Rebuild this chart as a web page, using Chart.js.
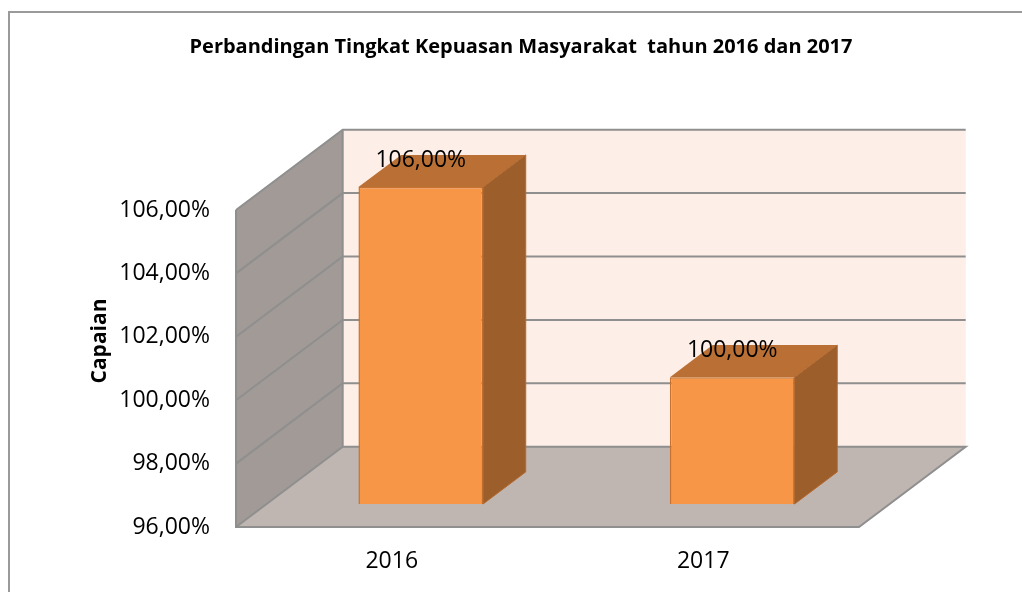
<!DOCTYPE html>
<html>
<head>
<meta charset="utf-8">
<script src="https://cdn.jsdelivr.net/npm/chart.js@4.4.1/dist/chart.umd.min.js"></script>
<style>
  html, body { margin: 0; padding: 0; background: #fff; }
  #chart { display: block; }
</style>
</head>
<body>
<canvas id="chart" width="1022" height="592"></canvas>
<script>
// data
var categories = ['2016', '2017'];
var capaian = [106, 100];          // percent
var yMin = 96, yMax = 106, yStep = 2;
var yTitle = 'Capaian';

// 3D look (projection of the depth axis)
var depthX = 106.7, depthY = -80.3;   // full wall depth
var barFront = 0.286;                 // where the bar front sits in the depth
var barDepth = 0.4;                   // bar thickness in the depth
var shiftX = 29, shiftY = depthY * barFront;

function pct(v) {
    return v.toFixed(2).replace('.', ',') + '%';
}

var fontName = "'Open Sans', 'Noto Sans', sans-serif";

var box3d = {
    id: 'box3d',
    beforeDraw: function (chart) {
        var c = chart.ctx;
        c.save();
        c.fillStyle = '#fff';
        c.fillRect(0, 0, chart.width, chart.height);
        // frame of the chart object
        c.strokeStyle = '#9a9a9a';
        c.lineWidth = 2;
        c.beginPath();
        c.moveTo(9, 592);
        c.lineTo(9, 12);
        c.lineTo(1022, 12);
        c.stroke();
        // value axis title
        c.translate(100, 341);
        c.rotate(-Math.PI / 2);
        c.fillStyle = '#000';
        c.font = 'bold 21px ' + fontName;
        c.textAlign = 'center';
        c.textBaseline = 'middle';
        c.fillText(yTitle, 0, 0);
        c.restore();
    },
    beforeDatasetsDraw: function (chart) {
        var c = chart.ctx, a = chart.chartArea, y = chart.scales.y;
        var L = a.left, R = a.right, T = a.top, B = a.bottom;
        c.save();
        // back wall
        c.fillStyle = '#fdeee7';
        c.fillRect(L + depthX, T + depthY, R - L, B - T);
        // left wall
        c.fillStyle = '#a19a96';
        c.beginPath();
        c.moveTo(L, T); c.lineTo(L + depthX, T + depthY);
        c.lineTo(L + depthX, B + depthY); c.lineTo(L, B);
        c.closePath(); c.fill();
        // floor
        c.fillStyle = '#bfb5b1';
        c.beginPath();
        c.moveTo(L, B); c.lineTo(R, B);
        c.lineTo(R + depthX, B + depthY); c.lineTo(L + depthX, B + depthY);
        c.closePath(); c.fill();
        // grid lines on the walls, from the y scale ticks
        c.strokeStyle = '#8f8f8f';
        c.lineWidth = 2;
        y.ticks.forEach(function (t) {
            var py = y.getPixelForValue(t.value);
            c.beginPath();
            c.moveTo(L, py);
            c.lineTo(L + depthX, py + depthY);
            if (t.value !== yMin) {
                c.lineTo(R + depthX, py + depthY);
            }
            c.stroke();
        });
        // floor edges and wall edges
        c.beginPath();
        c.moveTo(L + depthX, B + depthY); c.lineTo(R + depthX, B + depthY);
        c.lineTo(R, B); c.lineTo(L, B); c.lineTo(L, T);
        c.moveTo(L + depthX, T + depthY); c.lineTo(L + depthX, B + depthY);
        c.stroke();
        c.restore();
    },
    beforeDatasetDraw: function (chart) {
        chart.ctx.save();
        chart.ctx.translate(shiftX, shiftY);
    },
    afterDatasetDraw: function (chart) {
        chart.ctx.restore();
    },
    afterDatasetsDraw: function (chart) {
        var c = chart.ctx;
        var bx = depthX * barDepth, by = depthY * barDepth;
        var meta = chart.getDatasetMeta(0);
        c.save();
        meta.data.forEach(function (el, i) {
            var w = el.width;
            var x0 = el.x - w / 2 + shiftX, x1 = el.x + w / 2 + shiftX;
            var yt = el.y + shiftY, yb = el.base + shiftY;
            // top face
            c.fillStyle = '#ba7034';
            c.beginPath();
            c.moveTo(x0, yt); c.lineTo(x1, yt);
            c.lineTo(x1 + bx, yt + by); c.lineTo(x0 + bx, yt + by);
            c.closePath(); c.fill();
            // side face
            c.fillStyle = '#9c5e2b';
            c.beginPath();
            c.moveTo(x1, yt); c.lineTo(x1 + bx, yt + by);
            c.lineTo(x1 + bx, yb + by); c.lineTo(x1, yb);
            c.closePath(); c.fill();
            c.strokeStyle = '#b56a30';
            c.lineWidth = 1;
            c.stroke();
            // value label
            c.fillStyle = '#000';
            c.font = '23px ' + fontName;
            c.textAlign = 'center';
            c.textBaseline = 'middle';
            c.fillText(pct(capaian[i]), el.x + shiftX, yt - 27);
        });
        c.restore();
    }
};

var ctx = document.getElementById('chart').getContext('2d');
var myChart = new Chart(ctx, {
    type: 'bar',
    data: {
        labels: categories,
        datasets: [{
            label: 'Capaian',
            data: capaian,
            base: yMin,
            backgroundColor: '#f79646',
            borderColor: '#c8722f',
            borderWidth: 1.5,
            barPercentage: 0.4,
            categoryPercentage: 1,
            clip: false
        }]
    },
    options: {
        responsive: false,
        animation: false,
        devicePixelRatio: 1,
        layout: { padding: { left: 20, right: 0, top: 0, bottom: 0 } },
        plugins: {
            legend: { display: false },
            tooltip: { enabled: false },
            title: {
                display: true,
                text: 'Perbandingan Tingkat Kepuasan Masyarakat  tahun 2016 dan 2017',
                color: '#000',
                font: { family: fontName, size: 20, weight: 'bold', lineHeight: 1.2 },
                padding: { top: 35, bottom: 151 }
            }
        },
        scales: {
            x: {
                grid: { display: false },
                border: { display: false },
                ticks: {
                    color: '#000',
                    font: { family: fontName, size: 23 },
                    padding: 13
                },
                afterFit: function (s) { s.height = 65; }
            },
            y: {
                min: yMin,
                max: yMax,
                grid: { display: false, drawTicks: false },
                border: { display: false },
                ticks: {
                    stepSize: yStep,
                    color: '#000',
                    padding: 26,
                    font: { family: fontName, size: 23 },
                    callback: function (v) { return pct(v); }
                },
                afterFit: function (s) { s.width = 216; }
            },
            // empty right-hand space that holds the depth of the 3D box
            room: {
                type: 'linear',
                position: 'right',
                display: true,
                grid: { display: false, drawTicks: false },
                border: { display: false },
                ticks: { display: false },
                afterFit: function (s) { s.width = 163; }
            }
        }
    },
    plugins: [box3d]
});
</script>
</body>
</html>
